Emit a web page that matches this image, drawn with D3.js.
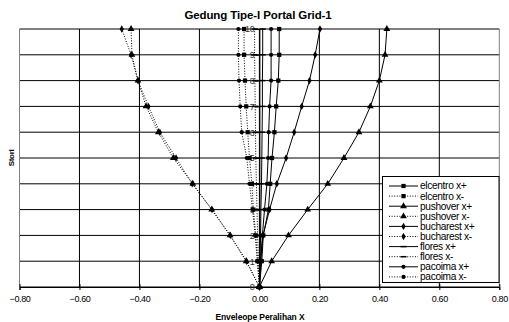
<!DOCTYPE html>
<html>
<head>
<meta charset="utf-8">
<script src="https://cdn.jsdelivr.net/npm/d3@7/dist/d3.min.js"></script>
<style>
  html, body { margin: 0; padding: 0; background: #fff; }
  svg { display: block; font-family: "Liberation Sans", Arial, sans-serif; }
</style>
</head>
<body>
<svg id="chart" width="509" height="322"></svg>
<script>
// Storey levels (lantai)
const stories = [0, 1, 2, 3, 4, 5, 6, 7, 8, 9, 10];

// Envelope of lateral displacement per storey, one array per record / direction
const elcentroPos  = [0, 0.008, 0.013, 0.030, 0.036, 0.042, 0.050, 0.056, 0.063, 0.066, 0.066];
const elcentroNeg  = [0, -0.006, -0.012, -0.020, -0.025, -0.033, -0.039, -0.044, -0.048, -0.051, -0.051];
const pushoverPos  = [0, 0.041, 0.097, 0.161, 0.228, 0.282, 0.332, 0.370, 0.400, 0.419, 0.425];
const pushoverNeg  = [0, -0.044, -0.098, -0.159, -0.222, -0.287, -0.337, -0.378, -0.405, -0.425, -0.428];
const bucharestPos = [0, 0.004, 0.012, 0.034, 0.058, 0.089, 0.116, 0.141, 0.167, 0.186, 0.202];
const bucharestNeg = [0, -0.043, -0.097, -0.158, -0.224, -0.278, -0.332, -0.370, -0.405, -0.428, -0.459];
const floresPos    = [0, 0.002, 0.004, 0.005, 0.007, 0.008, 0.009, 0.010, 0.010, 0.011, 0.011];
const floresNeg    = [0, -0.003, -0.006, -0.008, -0.010, -0.012, -0.013, -0.014, -0.015, -0.016, -0.016];
const pacoimaPos   = [0, 0.004, 0.010, 0.017, 0.025, 0.029, 0.031, 0.034, 0.039, 0.039, 0.039];
const pacoimaNeg   = [0, -0.007, -0.014, -0.023, -0.033, -0.042, -0.059, -0.064, -0.068, -0.070, -0.070];

const seriesNames = ["elcentro x+", "elcentro x-", "pushover x+", "pushover x-",
                     "bucharest x+", "bucharest x-", "flores x+", "flores x-",
                     "pacoima x+", "pacoima x-"];
const xTicks = [-0.8, -0.6, -0.4, -0.2, 0, 0.2, 0.4, 0.6, 0.8];
const yTicks = [0, 1, 2, 3, 4, 5, 6, 7, 8, 9, 10];

const series = [
  { name: seriesNames[0], values: elcentroPos,  marker: "square",   dotted: false },
  { name: seriesNames[1], values: elcentroNeg,  marker: "square",   dotted: true },
  { name: seriesNames[2], values: pushoverPos,  marker: "triangle", dotted: false },
  { name: seriesNames[3], values: pushoverNeg,  marker: "triangle", dotted: true },
  { name: seriesNames[4], values: bucharestPos, marker: "diamond",  dotted: false },
  { name: seriesNames[5], values: bucharestNeg, marker: "diamond",  dotted: true },
  { name: seriesNames[6], values: floresPos,    marker: "dash",     dotted: false },
  { name: seriesNames[7], values: floresNeg,    marker: "dash",     dotted: true },
  { name: seriesNames[8], values: pacoimaPos,   marker: "circle",   dotted: false },
  { name: seriesNames[9], values: pacoimaNeg,   marker: "circle",   dotted: true }
];

const svg = d3.select("#chart");
const plot = { left: 19.5, right: 499.3, top: 29, bottom: 287 };

const x = d3.scaleLinear().domain([-0.8, 0.8]).range([plot.left, plot.right]);
const y = d3.scaleLinear().domain([0, 10]).range([plot.bottom, plot.top]);

// Grid
const grid = svg.append("g");
grid.selectAll("line.h").data(yTicks).join("line")
  .attr("x1", plot.left).attr("x2", plot.right)
  .attr("y1", d => y(d)).attr("y2", d => y(d))
  .attr("stroke", "#000").attr("stroke-width", 1);
grid.selectAll("line.v").data(xTicks).join("line")
  .attr("x1", d => x(d)).attr("x2", d => x(d))
  .attr("y1", plot.top).attr("y2", plot.bottom)
  .attr("stroke", d => (d === -0.8 || d === 0.8) ? "#808080" : "#000")
  .attr("stroke-width", 1);

// X axis along the storey-0 line
const xAxis = d3.axisBottom(x).tickValues(xTicks).tickSize(3).tickPadding(6)
  .tickFormat(d3.format(".2f"));
const gx = svg.append("g").attr("transform", `translate(0,${y(0)})`).call(xAxis);
gx.select(".domain").attr("stroke", "#000");
gx.selectAll(".tick line").attr("stroke", "#000").attr("y1", -3);
gx.selectAll(".tick text").attr("font-size", 9).attr("letter-spacing", -0.4)
  .attr("fill", "#000").attr("font-family", "Liberation Sans, Arial, sans-serif");

// Y axis crossing at zero displacement
const yAxis = d3.axisLeft(y).tickValues(yTicks).tickSize(4).tickPadding(1)
  .tickFormat(d3.format("d"));
const gy = svg.append("g").attr("transform", `translate(${x(0)},0)`).call(yAxis);
gy.select(".domain").attr("stroke", "#000");
gy.selectAll(".tick line").attr("stroke", "#000");
gy.selectAll(".tick text").attr("font-size", 9).attr("letter-spacing", -0.3)
  .attr("fill", "#333").attr("font-family", "Liberation Sans, Arial, sans-serif");

// Markers
function drawMarker(g, type, cx, cy) {
  if (type === "dash") {
    g.append("line").attr("x1", cx - 3).attr("x2", cx + 3)
      .attr("y1", cy).attr("y2", cy).attr("stroke", "#000").attr("stroke-width", 1.5);
    return;
  }
  const sym = { square: d3.symbolSquare, triangle: d3.symbolTriangle,
                diamond: d3.symbolDiamond, circle: d3.symbolCircle }[type];
  const size = { square: 18, triangle: 20, diamond: 16, circle: 14 }[type];
  g.append("path").attr("d", d3.symbol(sym, size)())
    .attr("transform", `translate(${cx},${cy})`).attr("fill", "#000");
}

const line = d3.line().x(d => x(d.v)).y(d => y(d.s));
const lines = svg.append("g");
const marks = svg.append("g");
series.forEach(s => {
  const pts = stories.map((st, i) => ({ s: st, v: s.values[i] }));
  lines.append("path").datum(pts).attr("d", line)
    .attr("fill", "none").attr("stroke", "#000").attr("stroke-width", 1)
    .attr("stroke-dasharray", s.dotted ? "1,1.6" : null);
  pts.forEach(p => drawMarker(marks, s.marker, x(p.v), y(p.s)));
});

// Legend
const lg = { x: 382.5, y: 176.5, w: 116.5, h: 106, row: 10.1, first: 186 };
const legend = svg.append("g");
legend.append("rect").attr("x", lg.x).attr("y", lg.y).attr("width", lg.w).attr("height", lg.h)
  .attr("fill", "#fff").attr("stroke", "#000").attr("stroke-width", 1);
series.forEach((s, i) => {
  const cy = lg.first + i * lg.row;
  legend.append("line").attr("x1", 389).attr("x2", 418).attr("y1", cy).attr("y2", cy)
    .attr("stroke", "#000").attr("stroke-width", 1)
    .attr("stroke-dasharray", s.dotted ? "1,1.6" : null);
  drawMarker(legend, s.marker, 403.5, cy);
  legend.append("text").attr("x", 420).attr("y", cy + 3.4)
    .attr("font-size", 10.2).attr("letter-spacing", -0.35).text(s.name);
});

// Titles
svg.append("text").attr("x", 258).attr("y", 19).attr("text-anchor", "middle")
  .attr("font-size", 11.5).attr("font-weight", "bold").attr("letter-spacing", -0.1)
  .text("Gedung Tipe-I Portal Grid-1");
svg.append("text").attr("x", 260).attr("y", 319.5).attr("text-anchor", "middle")
  .attr("font-size", 8.5).attr("font-weight", "bold").attr("letter-spacing", -0.1)
  .text("Enveleope Peralihan X");
svg.append("text").attr("transform", "translate(14,158) rotate(-90)")
  .attr("text-anchor", "middle").attr("font-size", 8).attr("font-weight", "bold")
  .attr("letter-spacing", -0.3).text("Stori");
</script>
</body>
</html>
